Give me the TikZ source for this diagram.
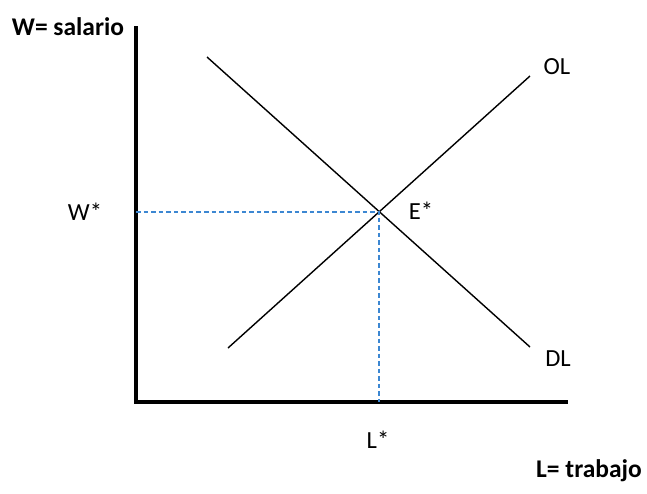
\documentclass[tikz,border=0pt]{standalone}
\usepackage{fontspec}
\setmainfont{Carlito}
\definecolor{azulguia}{RGB}{60,135,210}
\tikzset{
  etiqueta/.style={font=\fontsize{14}{17}\selectfont, inner sep=0pt},
  titulo/.style={font=\fontsize{14.5}{17}\selectfont\bfseries, inner sep=0pt},
  curva/.style={line width=0.8pt},
  eje/.style={line width=1.8pt},
  guialinea/.style={draw=azulguia, dash pattern=on 2.6pt off 1.7pt, line width=1.1pt}
}
\begin{document}
\begin{tikzpicture}[x=0.02cm, y=-0.02cm]
    \useasboundingbox (0,0) rectangle (647,494);
    % 1. Ejes
    \coordinate (O) at (136,402);
    \coordinate (Wtop) at (136,26);
    \coordinate (Lend) at (568,402);
    \draw[eje] (Wtop) -- (O) -- (Lend);
    \node[titulo] (Weje) at (68,27) {W= salario};
    \node[titulo] (Leje) at (589,471) {L= trabajo};

    % 2. Curvas de demanda y oferta
    \coordinate (DLa) at (207,57);
    \coordinate (DLb) at (530,347);
    \coordinate (OLa) at (228,348);
    \coordinate (OLb) at (530,76);
    \draw[curva] (DLa) -- (DLb);
    \draw[curva] (OLa) -- (OLb);
    \node[etiqueta] (OL) at (557,67) {OL};
    \node[etiqueta] (DL) at (558,359) {DL};

    % 3. Equilibrio y lineas guia
    \coordinate (E) at (intersection of DLa--DLb and OLa--OLb);
    \coordinate (Wy) at (O |- E);
    \coordinate (Lx) at (E |- O);
    \draw[guialinea] (Wy) -- (E) -- (Lx);
    \node[etiqueta] (Estar) at (421,211) {E*};
    \node[etiqueta] (Wstar) at (85,212) {W*};
    \node[etiqueta] (Lstar) at (378,440) {L*};
\end{tikzpicture}
\end{document}
